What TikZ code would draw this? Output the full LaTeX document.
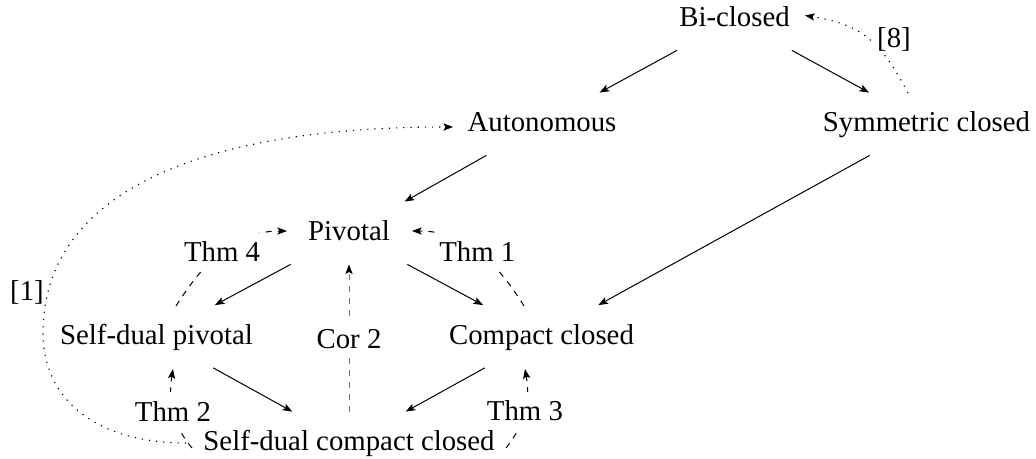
\documentclass[tikz,border=0pt]{standalone}
\usepackage{fontspec}
\setmainfont{Liberation Serif}
\usetikzlibrary{arrows.meta}
\begin{document}
\begin{tikzpicture}[x=0.5pt,y=-0.5pt,
  txt/.style={font=\fontsize{14.4}{17}\selectfont},
  obj/.style={txt,inner xsep=12pt,inner ysep=8.75pt,text height=10.5pt,text depth=3pt},
  lbl/.style={txt,fill=white,inner xsep=5pt,inner ysep=4.5pt,text height=10pt,text depth=0pt},
  refl/.style={txt,anchor=base,inner sep=0pt},
  tipstyle/.style={-{Stealth[length=4.8pt,width=3.6pt,inset=1pt,color=black]}},
  imp/.style={tipstyle,line width=0.5pt},
  thm/.style={tipstyle,line width=0.5pt,dashed},
  corl/.style={tipstyle,line width=0.5pt,dashed,draw=black!55},
  cite/.style={tipstyle,line width=0.55pt,dash pattern=on 0.6pt off 3pt},
]
\useasboundingbox (0,0) rectangle (1036,459);

% objects
\node[obj] (bic)  at (734.5,19)  {Bi-closed};
\node[obj] (aut)  at (542,124)   {Autonomous};
\node[obj] (sym)  at (926.5,124) {Symmetric closed};
\node[obj] (piv)  at (349,233)   {Pivotal};
\node[obj] (sdp)  at (156.5,336.5) {Self-dual pivotal};
\node[obj] (cc)   at (541.5,336.5) {Compact closed};
\node[obj] (sdcc) at (349,443)   {Self-dual compact closed};

% implications
\draw[imp] (bic) -- (aut);
\draw[imp] (bic) -- (sym);
\draw[imp] (aut) -- (piv);
\draw[imp] (sym) -- (cc);
\draw[imp] (piv) -- (sdp);
\draw[imp] (piv) -- (cc);
\draw[imp] (sdp) -- (sdcc);
\draw[imp] (cc) -- (sdcc);

% theorem arrows
\coordinate (t4a) at (176,306);  \coordinate (t4b) at (287,231);
\coordinate (t1a) at (524,306);  \coordinate (t1b) at (412,231);
\coordinate (t2a) at (192,448);  \coordinate (t2b) at (173,369);
\coordinate (t3a) at (506,448);  \coordinate (t3b) at (525,369);

\draw[thm] (t4a) .. controls (204,262) and (234,231) .. (t4b) node[lbl,pos=0.5] (thm4) {Thm 4};
\draw[thm] (t1a) .. controls (496,261) and (465,231) .. (t1b) node[lbl,pos=0.5] (thm1) {Thm 1};
\draw[thm] (t2a) .. controls (171.6,423.6) and (168,400.4) .. (t2b) node[lbl,pos=0.5] (thm2) {Thm 2};
\draw[thm] (t3a) .. controls (525.6,423) and (530.5,400.3) .. (t3b) node[lbl,pos=0.5] (thm3) {Thm 3};
\draw[corl] (sdcc) -- (piv) node[lbl,pos=0.5] (cor2) {Cor 2};

% citations
\coordinate (c1a) at (186,443); \coordinate (c1m) at (43,333); \coordinate (c1b) at (453,127);
\draw[cite] (c1a) .. controls (98,443) and (43,401) .. (c1m)
                  .. controls (43,199) and (187,127) .. (c1b);
\node[refl] (ref1) at (27,300) {[1]};

\coordinate (c8a) at (908,93); \coordinate (c8b) at (805,15.5);
\draw[cite] (c8a) .. controls (880.7,41.6) and (862.5,24.6) .. (c8b);
\node[refl,fill=white,inner sep=1pt] (ref8) at (894,48) {[8]};
\end{tikzpicture}
\end{document}
